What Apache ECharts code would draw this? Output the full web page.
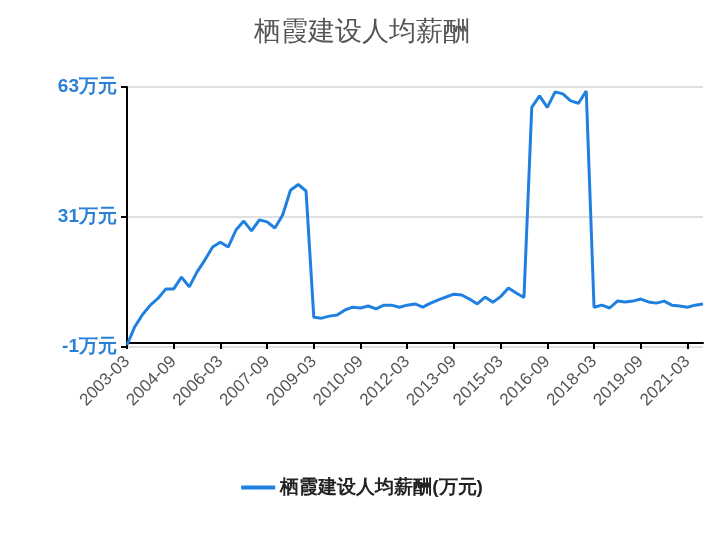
<!DOCTYPE html>
<html><head><meta charset="utf-8">
<script src="https://cdn.jsdelivr.net/npm/echarts@6/dist/echarts.min.js"></script>
<style>html,body{margin:0;padding:0;background:#fff}#c{width:724px;height:540px}</style>
</head><body><div id="c"></div>
<script>
const seriesName = '栖霞建设人均薪酬(万元)';
const values = [
-0.5,4,7,9.3,11,13.3,13.3,16.2,13.8,17.5,20.4,23.6,24.8,23.6,27.8,30,27.6,30.3,29.8,28.3,31.5,37.6,39,37.4,
6.3,6.1,6.6,6.9,8.1,8.8,8.6,9.1,8.4,9.3,9.3,8.8,9.3,9.6,8.8,9.8,10.6,11.3,12,11.8,10.8,9.6,11.3,10,11.4,13.5,12.3,11.2,
58,60.8,58,61.8,61.3,59.6,59,62,
8.8,9.3,8.6,10.3,10.1,10.3,10.8,10.1,9.8,10.3,9.3,9.1,8.8,9.3,9.6];
const categories = [];
(function(){let y=2003,m=3;for(let i=0;i<values.length;i++){categories.push(y+'-'+(m<10?'0'+m:m));m+=3;if(m>12){m=3;y++;}}})();
const yTicks = {min:-1,max:63,interval:32};
const chart = echarts.init(document.getElementById('c'));
chart.setOption({
  animation:false,
  title:{text:'栖霞建设人均薪酬',left:'center',top:14,textStyle:{color:'#555',fontSize:27,fontWeight:'normal'}},
  grid:{left:127,right:21,top:87,bottom:193},
  legend:{bottom:38,left:'center',itemWidth:34,itemHeight:4,icon:'rect',textStyle:{fontSize:19,color:'#222',fontWeight:'bold'},data:[seriesName]},
  xAxis:{type:'category',data:categories,boundaryGap:false,
    axisLine:{lineStyle:{color:'#000',width:2}},axisTick:{alignWithLabel:true,interval:5,lineStyle:{color:'#000',width:2},length:6},
    axisLabel:{interval:5,rotate:45,fontSize:17,color:'#555',margin:12}},
  yAxis:{type:'value',min:yTicks.min,max:yTicks.max,interval:yTicks.interval,
    axisLine:{show:true,lineStyle:{color:'#000',width:2}},axisTick:{show:true,length:6,lineStyle:{color:'#000',width:2}},
    axisLabel:{formatter:'{value}万元',color:'#2a7fd6',fontWeight:'bold',fontSize:19,margin:10},
    splitLine:{lineStyle:{color:'#e0e0e0',width:2}}},
  series:[{name:seriesName,type:'line',data:values,symbol:'none',lineStyle:{color:'#2080e0',width:3},itemStyle:{color:'#2080e0'}}]
});
</script></body></html>
